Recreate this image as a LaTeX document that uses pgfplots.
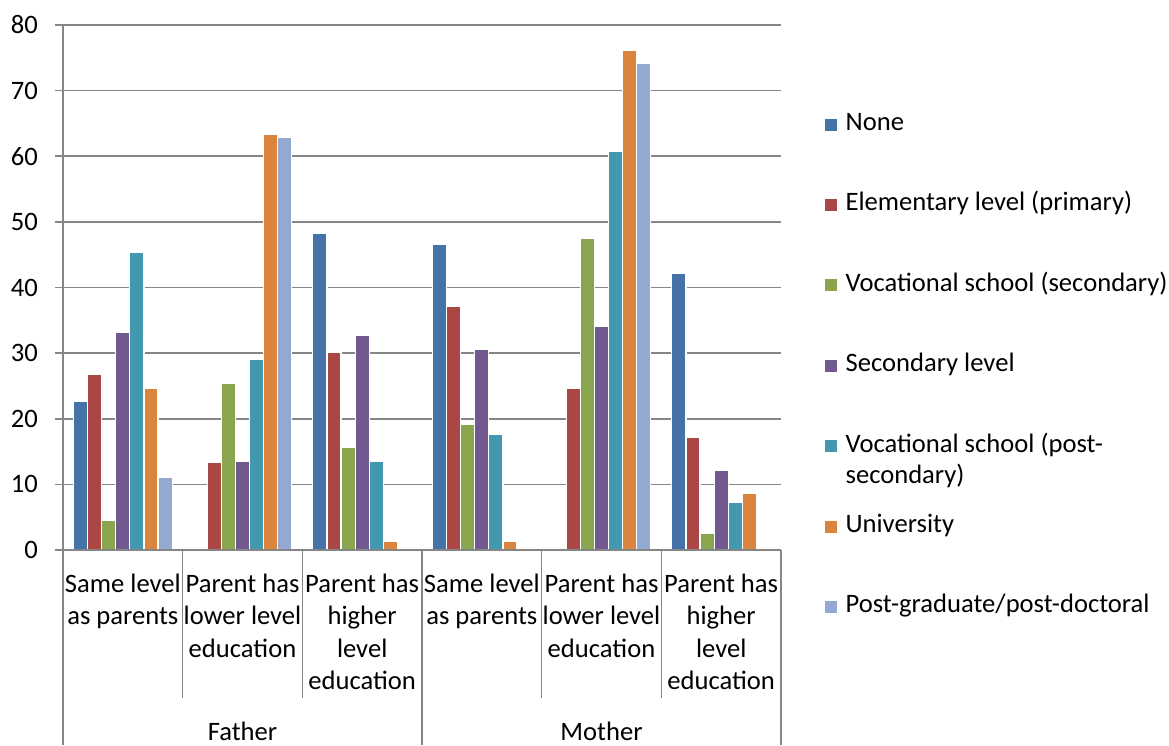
\documentclass[border=0pt]{standalone}
\usepackage{fontspec}
\setmainfont{Carlito}
\usepackage{pgfplots}
\pgfplotsset{compat=1.18}
\definecolor{gridgray}{HTML}{868686}
\definecolor{cNone}{HTML}{4572A7}
\definecolor{cElem}{HTML}{AA4643}
\definecolor{cVocS}{HTML}{89A54E}
\definecolor{cSec}{HTML}{71588F}
\definecolor{cVocP}{HTML}{4198AF}
\definecolor{cUni}{HTML}{DB843D}
\definecolor{cPost}{HTML}{93A9CF}
\begin{document}
\begin{tikzpicture}[font=\fontsize{26.6}{32.3}\selectfont]
\begin{axis}[
  at={(63pt,195pt)}, anchor=south west,
  scale only axis, width=718pt, height=525pt,
  xmin=-0.5, xmax=5.5, ymin=0, ymax=80,
  ytick={0,10,...,80},
  xtick={0,...,5},
  xticklabels={{Same level\\as parents},{Parent has\\lower level\\education},{Parent has\\higher\\level\\education},{Same level\\as parents},{Parent has\\lower level\\education},{Parent has\\higher\\level\\education}},
  xticklabel style={align=center, anchor=north, inner sep=0pt, yshift=-16pt, font=\fontsize{26.6}{32.3}\selectfont},
  major x tick style={draw=none},
  yticklabel style={anchor=east, inner sep=0pt, xshift=-17pt, font=\fontsize{26.6}{31}\selectfont},
  /pgf/number format/assume math mode=true,
  tick align=outside,
  major tick length=8pt,
  major y tick style={gridgray, line width=1.5pt},
  ymajorgrids,
  grid style={gridgray, line width=1.5pt},
  axis x line*=bottom, axis y line*=left,
  axis line style={gridgray, line width=1.5pt, -},
  clip=false,
  ybar=0pt,
  bar width=0.11765,
  every axis plot/.append style={draw=white, line width=1.2pt},
  legend cell align=left,
  legend style={
    at={(1,1)}, anchor=north west, xshift=44pt, yshift=-87.5pt,
    draw=none, fill=none, inner sep=0pt, outer sep=0pt,
    row sep=56.4pt, column sep=0pt,
    nodes={inner sep=0pt, text height=18pt, text depth=6pt, anchor=west},
    font=\fontsize{26.6}{31}\selectfont,
  },
  legend image code/.code={\fill[#1, draw=none] (0pt,-6pt) rectangle (12pt,6pt); \path (20pt,0pt);},
]
\addplot[fill=cNone] coordinates {(0,22.7) (2,48.3) (3,46.6) (5,42.2)};
\addplot[fill=cElem] coordinates {(0,26.7) (1,13.4) (2,30.1) (3,37.1) (4,24.7) (5,17.1)};
\addplot[fill=cVocS] coordinates {(0,4.5) (1,25.4) (2,15.7) (3,19.2) (4,47.5) (5,2.6)};
\addplot[fill=cSec] coordinates {(0,33.2) (1,13.5) (2,32.7) (3,30.6) (4,34.1) (5,12.2)};
\addplot[fill=cVocP] coordinates {(0,45.3) (1,29.1) (2,13.5) (3,17.6) (4,60.7) (5,7.3)};
\addplot[fill=cUni] coordinates {(0,24.6) (1,63.3) (2,1.3) (3,1.3) (4,76.1) (5,8.7)};
\addplot[fill=cPost] coordinates {(0,11.0) (1,62.8) (4,74.2)};
\legend{None, Elementary level (primary), Vocational school (secondary), Secondary level, {\smash{\begin{tabular}[t]{@{}l@{}}Vocational school (post-\\secondary)\end{tabular}}}, University, Post-graduate/post-doctoral}
% baseline redrawn over bar borders
\draw[gridgray, line width=1.5pt] (axis cs:-0.5,0) -- (axis cs:5.5,0);
% category separators
\draw[gridgray, line width=1.5pt] (axis cs:0.5,0) -- ++(0pt,-148pt);
\draw[gridgray, line width=1.5pt] (axis cs:1.5,0) -- ++(0pt,-148pt);
\draw[gridgray, line width=1.5pt] (axis cs:3.5,0) -- ++(0pt,-148pt);
\draw[gridgray, line width=1.5pt] (axis cs:4.5,0) -- ++(0pt,-148pt);
\draw[gridgray, line width=1.5pt] (axis cs:-0.5,0) -- ++(0pt,-195pt);
\draw[gridgray, line width=1.5pt] (axis cs:2.5,0) -- ++(0pt,-195pt);
\draw[gridgray, line width=1.5pt] (axis cs:5.5,0) -- ++(0pt,-195pt);
\node[anchor=base, inner sep=0pt] at ([yshift=-190pt]axis cs:1,0) {Father};
\node[anchor=base, inner sep=0pt] at ([yshift=-190pt]axis cs:4,0) {Mother};
\end{axis}
\pgfresetboundingbox
\useasboundingbox (0,0) rectangle (1169pt,745pt);
\end{tikzpicture}
\end{document}
